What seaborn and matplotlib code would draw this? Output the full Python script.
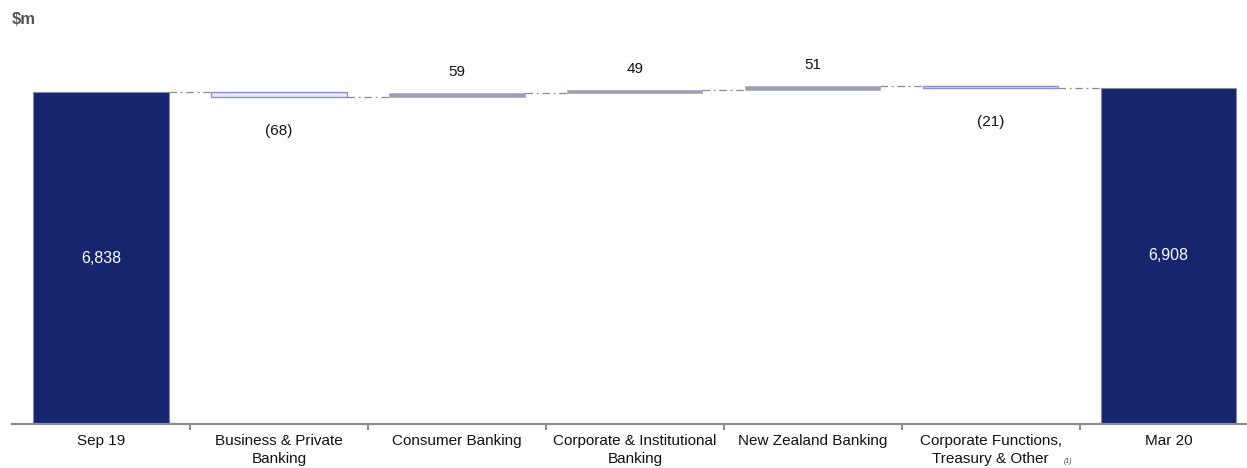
import numpy as np
import pandas as pd
import matplotlib.pyplot as plt
import seaborn as sns
from matplotlib.transforms import blended_transform_factory

# chart data
categories = ["Sep 19", "Business & Private\nBanking", "Consumer Banking",
              "Corporate & Institutional\nBanking", "New Zealand Banking",
              "Corporate Functions,\nTreasury & Other", "Mar 20"]
start_total = 6838
end_total = 6908
deltas = [-68, 59, 49, 51, -21]
delta_labels = ["(68)", "59", "49", "51", "(21)"]

NAVY = "#15266e"
POS = "#9d9db8"
NEG_EDGE = "#8c90d6"
NEG_FILL = "#e8e9fa"

sns.set_theme(style="white")
plt.rcParams["font.family"] = ["Liberation Sans", "DejaVu Sans"]

fig = plt.figure(figsize=(12.47, 4.68), dpi=100)
ax = fig.add_axes([12 / 1247, 44 / 468, 1 - 12 / 1247, 384 / 468])

# totals via seaborn
totals = pd.DataFrame({"cat": categories,
                       "value": [start_total] + [np.nan] * len(deltas) + [end_total]})
sns.barplot(data=totals, x="cat", y="value", order=categories, color=NAVY,
            width=0.76, saturation=1, edgecolor="#8a8a9a", linewidth=0.8, ax=ax)

# floating bars
running = start_total
levels = [running]
for i, d in enumerate(deltas, start=1):
    bottom = running if d > 0 else running + d
    if d > 0:
        ax.bar(i, d, bottom=bottom, width=0.76, color=POS, edgecolor="#b0b0c0", linewidth=0.6)
    else:
        ax.bar(i, -d, bottom=bottom, width=0.76, color=NEG_FILL, edgecolor=NEG_EDGE, linewidth=1.0)
    running += d
    levels.append(running)

ymin, ymax = 1730, 7640
ax.set_ylim(ymin, ymax)
ax.set_xlim(-0.5, 6.44)

# connectors
for i, lvl in enumerate(levels):
    ax.plot([i + 0.38, i + 1 - 0.38], [lvl, lvl], color="#8a8a8a", lw=0.9,
            linestyle=(0, (6, 3, 1.5, 3)))

# labels
for i, (d, lab) in enumerate(zip(deltas, delta_labels), start=1):
    if d > 0:
        ax.annotate(lab, (i, levels[i]), xytext=(0, 10), textcoords="offset points",
                    ha="center", va="bottom", fontsize=11, color="#111111")
    else:
        ax.annotate(lab, (i, levels[i]), xytext=(0, -20), textcoords="offset points",
                    ha="center", va="top", fontsize=11, color="#111111")

ax.text(0, (ymin + start_total) / 2, f"{start_total:,}", ha="center", va="center",
        color="white", fontsize=11.5)
ax.text(6, (ymin + end_total) / 2, f"{end_total:,}", ha="center", va="center",
        color="white", fontsize=11.5)

# axis styling
for s in ["top", "right", "left"]:
    ax.spines[s].set_visible(False)
ax.spines["bottom"].set_color("#8c8c8c")
ax.spines["bottom"].set_linewidth(1.6)
ax.set_yticks([])
ax.set_xlabel("")
ax.set_ylabel("")
ax.set_xticks(range(len(categories)))
ax.set_xticklabels(categories, fontsize=11, color="#111111", linespacing=1.3)
ax.set_xticks(np.arange(0.5, 6, 1), minor=True)
ax.tick_params(axis="x", which="major", bottom=False, length=0, pad=7.5)
ax.tick_params(axis="x", which="minor", bottom=True, length=4, width=1.4,
               color="#8c8c8c", direction="out")

# footnote marker
trans = blended_transform_factory(ax.transData, ax.transAxes)
ax.text(5.41, -0.098, "(1)", transform=trans, fontsize=5, style="italic",
        color="#333333", ha="left", va="center")

fig.text(12 / 1247, 1 - 20 / 468, "$m", fontsize=12, fontweight="bold",
         color="#555555", ha="left", va="center")

fig.savefig("out.png", dpi=100)
